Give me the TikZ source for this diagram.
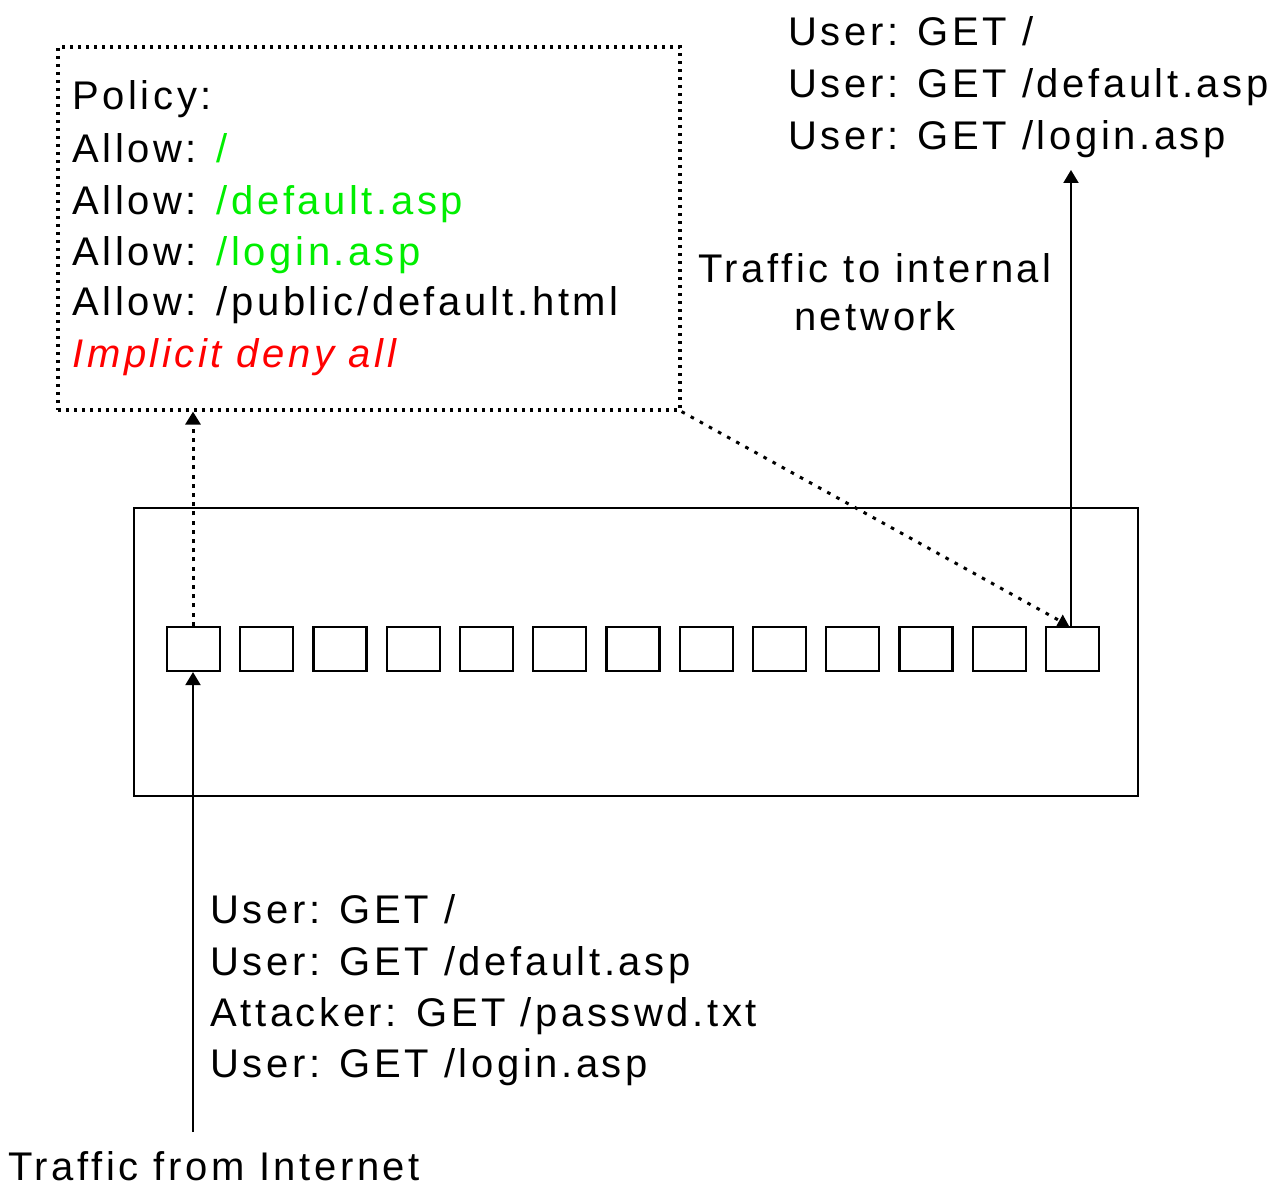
\documentclass[tikz,border=0pt]{standalone}
\usepackage{fontspec}
\setmainfont{Liberation Sans}[LetterSpace=9]
\usetikzlibrary{arrows.meta}
\definecolor{allowgreen}{HTML}{00EE00}
\definecolor{denyred}{HTML}{FF0000}

\begin{document}
\begin{tikzpicture}[x=0.5pt, y=-0.5pt,
  txt/.style={font=\fontsize{20}{24}\selectfont, inner sep=0pt, anchor=base west},
  ctxt/.style={txt, anchor=base},
  frame/.style={draw, line width=1pt, inner sep=0pt},
  port/.style={draw, line width=1.1pt, minimum width=26.5pt, minimum height=22pt, inner sep=0pt},
  policybox/.style={draw, line width=1.6pt, dash pattern=on 1.6pt off 2.4pt, inner sep=0pt},
  flow/.style={line width=1pt, -{Triangle[width=7.5pt,length=6.5pt]}},
  lookup/.style={line width=1.5pt, dash pattern=on 2pt off 2.6pt, -{Triangle[width=7.5pt,length=6.5pt]}},
  enforce/.style={line width=1.5pt, dash pattern=on 1.8pt off 3.4pt, -{Triangle[width=6.5pt,length=5.5pt]}}
]
\useasboundingbox (0,0) rectangle (1269,1186);

% firewall body and its ports
\node[frame, minimum width=502pt, minimum height=144pt] (fw) at (636,652) {};
\foreach \i in {1,...,13}{
  \node[port] (p\i) at ({167+26.5+(\i-1)*73.25},649) {};
}

% policy table
\node[policybox, minimum width=311pt, minimum height=181.5pt] (policy) at (369,228.5) {};
\node[txt] (pl0) at (72,110) {Policy:};
\node[txt] (pl1) at (72,163) {Allow: \textcolor{allowgreen}{/}};
\node[txt] (pl2) at (72,215) {Allow: \textcolor{allowgreen}{/default.asp}};
\node[txt] (pl3) at (72,266) {Allow: \textcolor{allowgreen}{/login.asp}};
\node[txt] (pl4) at (72,316) {Allow: /public/default.html};
\node[txt, text=denyred, font=\fontsize{20}{24}\selectfont\itshape] (pl5) at (72,368) {Implicit deny all};

% requests that reach the internal network
\node[txt] (o1) at (788,46) {User: GET /};
\node[txt] (o2) at (788,98) {User: GET /default.asp};
\node[txt] (o3) at (788,150) {User: GET /login.asp};
\coordinate (outtop) at (1071,170);

\node[ctxt] (int1) at (875,283) {Traffic to internal};
\node[ctxt] (int2) at (875,331) {network};

% requests arriving from the Internet
\node[txt] (i1) at (210,923) {User: GET /};
\node[txt] (i2) at (210,975) {User: GET /default.asp};
\node[txt] (i3) at (210,1026) {Attacker: GET /passwd.txt};
\node[txt] (i4) at (210,1077) {User: GET /login.asp};
\node[txt] (ext) at (8,1180) {Traffic from Internet};
\coordinate (inbot) at (193,1132);

% connectors
\draw[flow] (inbot) -- (inbot |- p1.south);
\draw[lookup] (p1.north -| inbot) -- (inbot |- policy.south);
\draw[enforce] (policy.south east) -- ([xshift=-1pt]p13.north west -| outtop);
\draw[flow] (p13.north -| outtop) -- (outtop);
\end{tikzpicture}
\end{document}
